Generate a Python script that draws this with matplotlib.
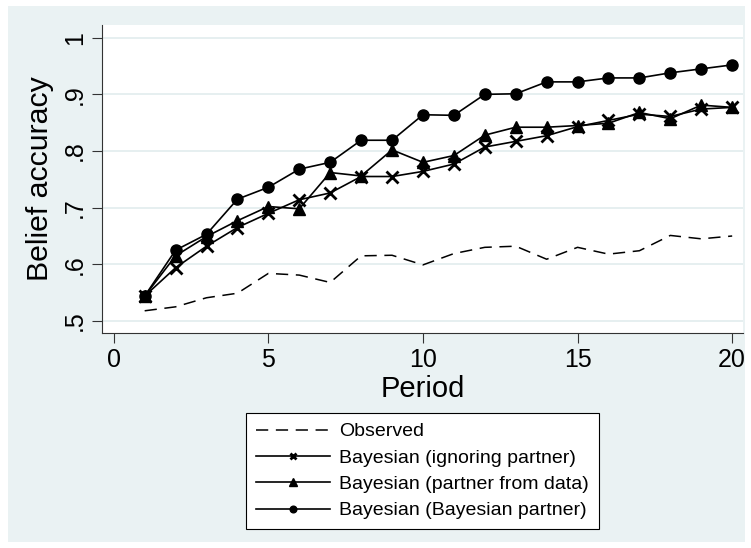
import matplotlib
matplotlib.use("Agg")
from matplotlib import pyplot as plt
from matplotlib.patches import Rectangle

plt.rcParams['font.family'] = ['Liberation Sans', 'DejaVu Sans']

# data
periods = list(range(1, 21))
observed = [0.518, 0.525, 0.541, 0.549, 0.584, 0.581, 0.568, 0.615, 0.616, 0.599,
            0.619, 0.630, 0.632, 0.609, 0.630, 0.618, 0.624, 0.651, 0.645, 0.650]
ignoring = [0.544, 0.594, 0.632, 0.665, 0.690, 0.714, 0.726, 0.755, 0.755, 0.764,
            0.777, 0.807, 0.817, 0.827, 0.843, 0.854, 0.865, 0.861, 0.874, 0.877]
from_data = [0.544, 0.615, 0.649, 0.677, 0.702, 0.698, 0.762, 0.756, 0.802, 0.780,
             0.792, 0.828, 0.842, 0.842, 0.845, 0.849, 0.868, 0.857, 0.881, 0.877]
bayes_partner = [0.544, 0.625, 0.653, 0.715, 0.736, 0.768, 0.780, 0.819, 0.819, 0.864,
                 0.863, 0.900, 0.901, 0.922, 0.922, 0.929, 0.929, 0.938, 0.945, 0.952]
labels = ["Observed", "Bayesian (ignoring partner)",
          "Bayesian (partner from data)", "Bayesian (Bayesian partner)"]
xticks = [0, 5, 10, 15, 20]
yticks = [0.5, 0.6, 0.7, 0.8, 0.9, 1.0]
ytick_labels = [".5", ".6", ".7", ".8", ".9", "1"]

bg = "#EAF2F3"
W, H = 751, 548
fig = plt.figure(figsize=(W / 100, H / 100), dpi=100, facecolor="white")
fig.patches.append(Rectangle((8 / W, 1 - 542 / H), (745 - 8) / W, (542 - 6) / H,
                             transform=fig.transFigure, facecolor=bg, edgecolor="none", zorder=-10))

ax = fig.add_axes([102 / W, 1 - 333 / H, (743 - 102) / W, (333 - 25) / H])
ax.set_facecolor("white")

ax.plot(periods, observed, color="black", lw=1.1, dashes=(8, 5), label=labels[0])
ax.plot(periods, ignoring, color="black", lw=1.2, marker="x", ms=8, mew=2, label=labels[1])
ax.plot(periods, from_data, color="black", lw=1.2, marker="^", ms=8.5, label=labels[2])
ax.plot(periods, bayes_partner, color="black", lw=1.2, marker="o", ms=8, label=labels[3])

ax.set_xlim(-0.38, 20.35)
ax.set_ylim(0.4788, 1.0224)
ax.set_xticks(xticks)
ax.set_yticks(yticks)
ax.set_yticklabels(ytick_labels, rotation=90, va="center")
ax.grid(axis="y", color="#E1ECEE", lw=1.2)
ax.set_axisbelow(True)
for s in ["top", "right"]:
    ax.spines[s].set_visible(False)
for s in ["left", "bottom"]:
    ax.spines[s].set_color("#333333")
ax.tick_params(labelsize=18, length=7, color="#333333", pad=4)

ax.set_xlabel("Period", fontsize=21, labelpad=2)
ax.set_ylabel("Belief accuracy", fontsize=21.8, labelpad=6)

handles, lbls = ax.get_legend_handles_labels()
leg = fig.legend(handles, lbls, loc="upper center", bbox_to_anchor=(422.5 / W, 1 - 413 / H),
                 fontsize=14, frameon=True, fancybox=False, edgecolor="black",
                 handlelength=3.8, markerscale=0.6, borderpad=0.5, labelspacing=0.45,
                 handletextpad=0.5, borderaxespad=0)
leg.get_frame().set_linewidth(0.8)
leg.get_frame().set_facecolor("white")
leg.get_frame().set_alpha(1)

fig.savefig("out.png", dpi=100, facecolor="white")
